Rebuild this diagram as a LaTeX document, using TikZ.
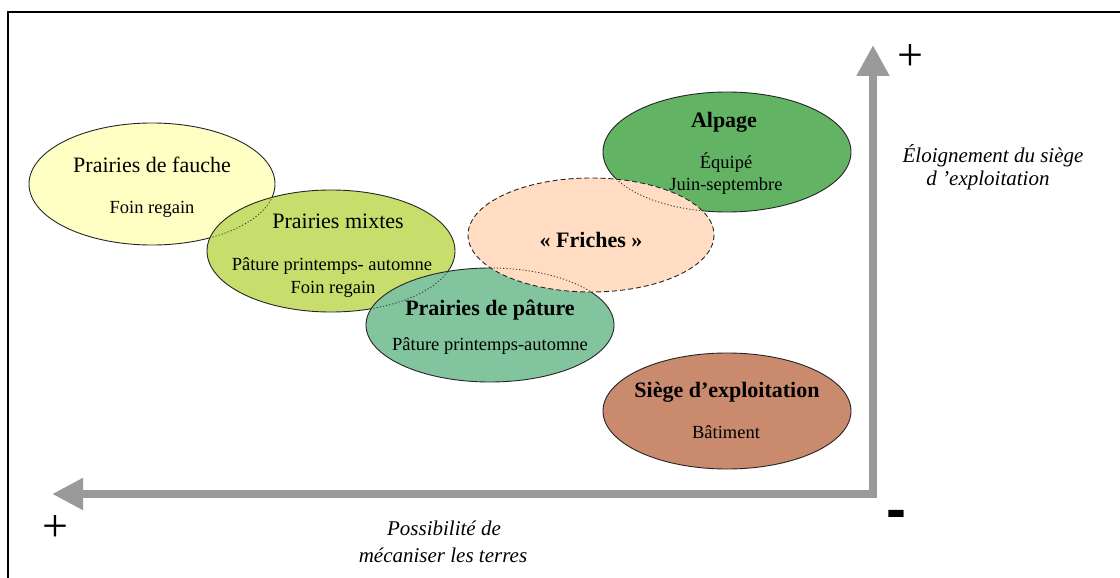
\documentclass[tikz,border=0pt]{standalone}
\usepackage{fontspec}
\setmainfont{Liberation Serif}
\newfontfamily\signfont{Liberation Sans}
\usetikzlibrary{arrows.meta}
\definecolor{cFauche}{HTML}{FFFFC4}
\definecolor{cMixtes}{HTML}{C7DE6C}
\definecolor{cPature}{HTML}{82C49E}
\definecolor{cFriches}{HTML}{FFDCC2}
\definecolor{cAlpage}{HTML}{62B464}
\definecolor{cSiege}{HTML}{C98A6D}
\definecolor{axisgray}{HTML}{9A9A9A}
\begin{document}
\begin{tikzpicture}[x=1pt,y=-1pt,
  zone/.style={draw=black!85, line width=0.9pt},
  frich/.style={draw=black!85, line width=0.9pt, dash pattern=on 5pt off 3pt},
  hidden/.style={draw=black!75, line width=0.9pt, dash pattern=on 1.2pt off 2pt},
  ttl/.style={font=\fontsize{22}{26}\selectfont, anchor=base, inner sep=0pt},
  bttl/.style={font=\fontsize{22}{26}\selectfont\bfseries, anchor=base, inner sep=0pt},
  body/.style={font=\fontsize{18.5}{22}\selectfont, anchor=base, inner sep=0pt},
  axlab/.style={font=\fontsize{21}{25}\selectfont\itshape, anchor=base, inner sep=0pt},
  plussign/.style={font=\fontsize{46}{50}\selectfont, inner sep=0pt},
  minussign/.style={font=\signfont\fontsize{60}{60}\selectfont\bfseries, inner sep=0pt},
  axis/.style={draw=axisgray, line width=8pt, line join=miter,
    arrows={Triangle[length=31pt,width=31pt]-Triangle[length=31pt,width=30pt]}}
]
\useasboundingbox (0,0) rectangle (1120,578);
\fill[white] (0,0) rectangle (1120,578);
% frame
\draw[line width=2pt] (8,578) -- (8,12) -- (1120,12);

% ellipse centres
\coordinate (cFau) at (152,184);
\coordinate (cMix) at (331,251);
\coordinate (cPat) at (490,325);
\coordinate (cAlp) at (727,152);
\coordinate (cFri) at (591,235);
\coordinate (cSie) at (727,411);

\def\eFau{(cFau) ellipse [x radius=123, y radius=61]}
\def\eMix{(cMix) ellipse [x radius=124, y radius=61]}
\def\ePat{(cPat) ellipse [x radius=124, y radius=57]}
\def\eAlp{(cAlp) ellipse [x radius=124, y radius=60]}
\def\eFri{(cFri) ellipse [x radius=123, y radius=57]}
\def\eSie{(cSie) ellipse [x radius=124, y radius=58]}

% axes
\draw[axis] (873,45) -- (873,494) -- (52,494);

% zones, back to front
\path[zone, fill=cFauche] \eFau;
\path[zone, fill=cMixtes] \eMix;
\begin{scope}\clip \eMix; \path[hidden] \eFau; \end{scope}
\path[zone, fill=cPature] \ePat;
\begin{scope}\clip \ePat; \path[hidden] \eMix; \end{scope}
\path[zone, fill=cAlpage] \eAlp;
\path[frich, fill=cFriches] \eFri;
\begin{scope}\clip \eFri; \path[hidden] \eAlp; \path[hidden] \ePat; \end{scope}
\path[zone, fill=cSiege] \eSie;

% texts
\node[ttl] (t1) at (152,172) {Prairies de fauche};
\node[body] (t1b) at (152,213) {Foin regain};
\node[ttl] (t2) at (338,228) {Prairies mixtes};
\node[body] (t2b) at (332,270) {Pâture printemps- automne};
\node[body] (t2c) at (333,293) {Foin regain};
\node[bttl] (t3) at (490,315) {Prairies de pâture};
\node[body] (t3b) at (490,350) {Pâture printemps-automne};
\node[bttl] (t4) at (591,247) {« Friches »};
\node[bttl] (t5) at (724,128) {Alpage};
\node[body] (t5b) at (726,168) {Équipé};
\node[body] (t5c) at (726,190) {Juin-septembre};
\node[bttl] (t6) at (727,397) {Siège d’exploitation};
\node[body] (t6b) at (726,438) {Bâtiment};

% axis labels
\node[axlab] (ay1) at (993,162) {Éloignement du siège};
\node[axlab] (ay2) at (988,185) {d ’exploitation};
\node[axlab] (ax1) at (444,535) {Possibilité de};
\node[axlab] (ax2) at (443,562) {mécaniser les terres};
\node[plussign] (p1) at (910,58) {+};
\node[plussign] (p2) at (55,529) {+};
\node[minussign] (m1) at (896,520) {-};
\end{tikzpicture}
\end{document}
